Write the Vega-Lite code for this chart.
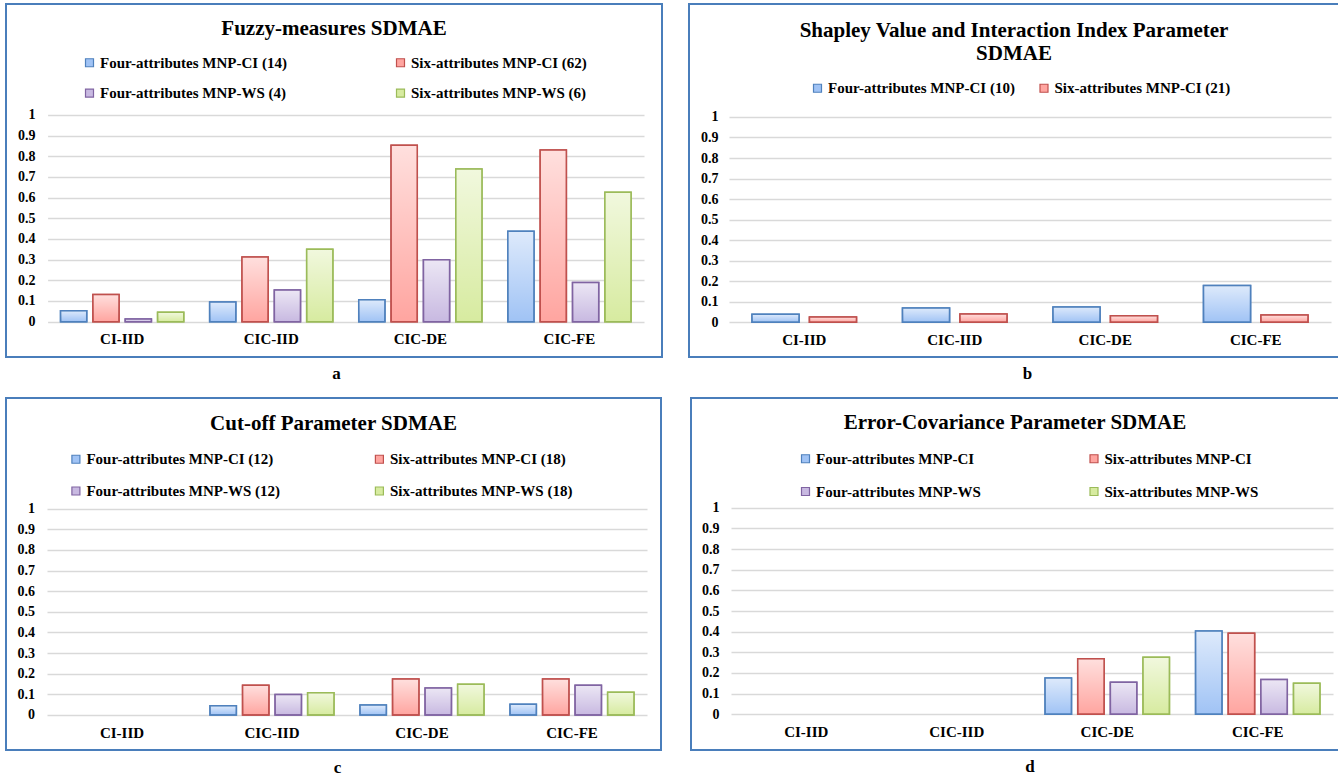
{
  "$schema": "https://vega.github.io/schema/vega-lite/v6.json",
  "background": "white",
  "autosize": {"type": "pad"},
  "padding": {"left": 5, "top": 3, "right": 0, "bottom": 0},
  "config": {
    "view": {"stroke": "#4a7ebb", "strokeWidth": 2},
    "font": "Liberation Serif",
    "title": {"font": "Liberation Serif", "fontSize": 21, "fontWeight": "bold", "color": "#000000", "anchor": "middle", "frame": "group", "baseline": "alphabetic"},
    "axis": {"labelFont": "Liberation Serif", "labelFontWeight": "bold", "labelColor": "#000000", "titleFont": "Liberation Serif", "titleFontWeight": "bold", "titleColor": "#000000", "domain": false, "ticks": false, "tickSize": 0},
    "axisX": {"labelAngle": 0, "labelFontSize": 15, "labelPadding": 10, "grid": false, "titleFontSize": 17, "titleBaseline": "alphabetic", "titleAlign": "center"},
    "axisY": {"labelFontSize": 14, "labelPadding": 3, "grid": true, "gridColor": "#d9d9d9", "gridWidth": 1.5, "labelOverlap": false},
    "legend": {"labelFont": "Liberation Serif", "labelFontSize": 15, "labelFontWeight": "bold", "labelColor": "#000000", "labelLimit": 400, "symbolType": "square", "symbolSize": 64, "symbolStrokeWidth": 1.2, "labelOffset": 3, "padding": 0}
  },
  "datasets": {
    "a": [
      {"cat": "CI-IID", "series": "Four-attributes MNP-CI (14)", "value": 0.053},
      {"cat": "CI-IID", "series": "Six-attributes MNP-CI (62)", "value": 0.132},
      {"cat": "CI-IID", "series": "Four-attributes MNP-WS (4)", "value": 0.013},
      {"cat": "CI-IID", "series": "Six-attributes MNP-WS (6)", "value": 0.045},
      {"cat": "CIC-IID", "series": "Four-attributes MNP-CI (14)", "value": 0.095},
      {"cat": "CIC-IID", "series": "Six-attributes MNP-CI (62)", "value": 0.313},
      {"cat": "CIC-IID", "series": "Four-attributes MNP-WS (4)", "value": 0.153},
      {"cat": "CIC-IID", "series": "Six-attributes MNP-WS (6)", "value": 0.35},
      {"cat": "CIC-DE", "series": "Four-attributes MNP-CI (14)", "value": 0.106},
      {"cat": "CIC-DE", "series": "Six-attributes MNP-CI (62)", "value": 0.853},
      {"cat": "CIC-DE", "series": "Four-attributes MNP-WS (4)", "value": 0.3},
      {"cat": "CIC-DE", "series": "Six-attributes MNP-WS (6)", "value": 0.739},
      {"cat": "CIC-FE", "series": "Four-attributes MNP-CI (14)", "value": 0.437},
      {"cat": "CIC-FE", "series": "Six-attributes MNP-CI (62)", "value": 0.831},
      {"cat": "CIC-FE", "series": "Four-attributes MNP-WS (4)", "value": 0.189},
      {"cat": "CIC-FE", "series": "Six-attributes MNP-WS (6)", "value": 0.626}
    ],
    "b": [
      {"cat": "CI-IID", "series": "Four-attributes MNP-CI (10)", "value": 0.039},
      {"cat": "CI-IID", "series": "Six-attributes MNP-CI (21)", "value": 0.026},
      {"cat": "CIC-IID", "series": "Four-attributes MNP-CI (10)", "value": 0.07},
      {"cat": "CIC-IID", "series": "Six-attributes MNP-CI (21)", "value": 0.041},
      {"cat": "CIC-DE", "series": "Four-attributes MNP-CI (10)", "value": 0.075},
      {"cat": "CIC-DE", "series": "Six-attributes MNP-CI (21)", "value": 0.032},
      {"cat": "CIC-FE", "series": "Four-attributes MNP-CI (10)", "value": 0.179},
      {"cat": "CIC-FE", "series": "Six-attributes MNP-CI (21)", "value": 0.036}
    ],
    "c": [
      {"cat": "CIC-IID", "series": "Four-attributes MNP-CI (12)", "value": 0.045},
      {"cat": "CIC-IID", "series": "Six-attributes MNP-CI (18)", "value": 0.144},
      {"cat": "CIC-IID", "series": "Four-attributes MNP-WS (12)", "value": 0.099},
      {"cat": "CIC-IID", "series": "Six-attributes MNP-WS (18)", "value": 0.108},
      {"cat": "CIC-DE", "series": "Four-attributes MNP-CI (12)", "value": 0.048},
      {"cat": "CIC-DE", "series": "Six-attributes MNP-CI (18)", "value": 0.174},
      {"cat": "CIC-DE", "series": "Four-attributes MNP-WS (12)", "value": 0.131},
      {"cat": "CIC-DE", "series": "Six-attributes MNP-WS (18)", "value": 0.149},
      {"cat": "CIC-FE", "series": "Four-attributes MNP-CI (12)", "value": 0.052},
      {"cat": "CIC-FE", "series": "Six-attributes MNP-CI (18)", "value": 0.174},
      {"cat": "CIC-FE", "series": "Four-attributes MNP-WS (12)", "value": 0.144},
      {"cat": "CIC-FE", "series": "Six-attributes MNP-WS (18)", "value": 0.11}
    ],
    "d": [
      {"cat": "CIC-DE", "series": "Four-attributes MNP-CI", "value": 0.176},
      {"cat": "CIC-DE", "series": "Six-attributes MNP-CI", "value": 0.269},
      {"cat": "CIC-DE", "series": "Four-attributes MNP-WS", "value": 0.155},
      {"cat": "CIC-DE", "series": "Six-attributes MNP-WS", "value": 0.276},
      {"cat": "CIC-FE", "series": "Four-attributes MNP-CI", "value": 0.403},
      {"cat": "CIC-FE", "series": "Six-attributes MNP-CI", "value": 0.392},
      {"cat": "CIC-FE", "series": "Four-attributes MNP-WS", "value": 0.168},
      {"cat": "CIC-FE", "series": "Six-attributes MNP-WS", "value": 0.15}
    ]
  },
  "spacing": 14,
  "resolve": {"scale": {"fill": "independent", "stroke": "independent", "xOffset": "independent", "x": "independent", "y": "independent"}, "legend": {"fill": "independent", "stroke": "independent"}},
  "vconcat": [
    {
      "spacing": 25,
      "resolve": {"scale": {"fill": "independent", "stroke": "independent", "xOffset": "independent", "x": "independent", "y": "independent"}, "legend": {"fill": "independent", "stroke": "independent"}},
      "hconcat": [
        {
          "width": 656, "height": 353,
          "title": {"text": "Fuzzy-measures SDMAE", "offset": -35},
          "encoding": {
            "x": {"field": "cat", "type": "nominal", "scale": {"domain": ["CI-IID", "CIC-IID", "CIC-DE", "CIC-FE"], "range": [41.6, 638], "paddingInner": 0, "paddingOuter": 0}, "axis": {"title": "a", "offset": -35.3, "titleX": 330, "titleY": 57}},
            "y": {"field": "value", "type": "quantitative", "scale": {"domain": [-0.171, 1.537], "nice": false, "zero": false}, "axis": {"title": null, "offset": -32, "values": [0, 0.1, 0.2, 0.3, 0.4, 0.5, 0.6, 0.7, 0.8, 0.9, 1], "format": "~g"}}
          },
          "layer": [
            {
              "data": {"name": "a"},
              "mark": {"type": "bar", "strokeWidth": 1.5},
              "encoding": {
                "xOffset": {"field": "series", "scale": {"domain": ["Four-attributes MNP-CI (14)", "Six-attributes MNP-CI (62)", "Four-attributes MNP-WS (4)", "Six-attributes MNP-WS (6)"], "paddingInner": 0.19, "paddingOuter": 0.4}},
                "fill": {"field": "series", "type": "nominal", "scale": {"domain": ["Four-attributes MNP-CI (14)", "Four-attributes MNP-WS (4)", "Six-attributes MNP-CI (62)", "Six-attributes MNP-WS (6)"], "range": ["#a0c3f5", "#c8b9e1", "#ffa5a0", "#d7eba0"]}, "legend": {"title": null, "orient": "none", "legendX": 76, "legendY": 51, "columns": 2, "columnPadding": 106, "rowPadding": 14.6}},
                "stroke": {"field": "series", "type": "nominal", "scale": {"domain": ["Four-attributes MNP-CI (14)", "Four-attributes MNP-WS (4)", "Six-attributes MNP-CI (62)", "Six-attributes MNP-WS (6)"], "range": ["#4f81bd", "#8064a2", "#c0504d", "#9bbb59"]}, "legend": {"title": null, "orient": "none", "legendX": 76, "legendY": 51, "columns": 2, "columnPadding": 106, "rowPadding": 14.6}}
              }
            },
            {
              "data": {"name": "a"},
              "mark": {"type": "bar", "strokeWidth": 1.5, "fill": {"gradient": "linear", "x1": 0, "y1": 0, "x2": 0, "y2": 1, "stops": [{"offset": 0, "color": "rgba(255,255,255,0.65)"}, {"offset": 1, "color": "rgba(255,255,255,0)"}]}},
              "encoding": {
                "xOffset": {"field": "series", "scale": {"domain": ["Four-attributes MNP-CI (14)", "Six-attributes MNP-CI (62)", "Four-attributes MNP-WS (4)", "Six-attributes MNP-WS (6)"], "paddingInner": 0.19, "paddingOuter": 0.4}},
                "stroke": {"field": "series", "type": "nominal", "legend": null}
              }
            }
          ]
        },
        {
          "width": 650, "height": 353,
          "title": {"text": ["Shapley Value and Interaction Index Parameter", "SDMAE"], "offset": -60.5, "lineHeight": 23.3},
          "encoding": {
            "x": {"field": "cat", "type": "nominal", "scale": {"domain": ["CI-IID", "CIC-IID", "CIC-DE", "CIC-FE"], "range": [40, 642], "paddingInner": 0, "paddingOuter": 0}, "axis": {"title": "b", "offset": -34.7, "titleX": 338, "titleY": 56}},
            "y": {"field": "value", "type": "quantitative", "scale": {"domain": [-0.169, 1.55], "nice": false, "zero": false}, "axis": {"title": null, "offset": -32, "values": [0, 0.1, 0.2, 0.3, 0.4, 0.5, 0.6, 0.7, 0.8, 0.9, 1], "format": "~g"}}
          },
          "layer": [
            {
              "data": {"name": "b"},
              "mark": {"type": "bar", "strokeWidth": 1.5},
              "encoding": {
                "xOffset": {"field": "series", "scale": {"domain": ["Four-attributes MNP-CI (10)", "Six-attributes MNP-CI (21)"], "paddingInner": 0.18, "paddingOuter": 0.4}},
                "fill": {"field": "series", "type": "nominal", "scale": {"domain": ["Four-attributes MNP-CI (10)", "Six-attributes MNP-CI (21)"], "range": ["#a0c3f5", "#ffa5a0"]}, "legend": {"title": null, "orient": "none", "legendX": 121, "legendY": 76.5, "columns": 2, "columnPadding": 21.5}},
                "stroke": {"field": "series", "type": "nominal", "scale": {"domain": ["Four-attributes MNP-CI (10)", "Six-attributes MNP-CI (21)"], "range": ["#4f81bd", "#c0504d"]}, "legend": {"title": null, "orient": "none", "legendX": 121, "legendY": 76.5, "columns": 2, "columnPadding": 21.5}}
              }
            },
            {
              "data": {"name": "b"},
              "mark": {"type": "bar", "strokeWidth": 1.5, "fill": {"gradient": "linear", "x1": 0, "y1": 0, "x2": 0, "y2": 1, "stops": [{"offset": 0, "color": "rgba(255,255,255,0.65)"}, {"offset": 1, "color": "rgba(255,255,255,0)"}]}},
              "encoding": {
                "xOffset": {"field": "series", "scale": {"domain": ["Four-attributes MNP-CI (10)", "Six-attributes MNP-CI (21)"], "paddingInner": 0.18, "paddingOuter": 0.4}},
                "stroke": {"field": "series", "type": "nominal", "legend": null}
              }
            }
          ]
        }
      ]
    },
    {
      "spacing": 28,
      "resolve": {"scale": {"fill": "independent", "stroke": "independent", "xOffset": "independent", "x": "independent", "y": "independent"}, "legend": {"fill": "independent", "stroke": "independent"}},
      "hconcat": [
        {
          "width": 655, "height": 352,
          "title": {"text": "Cut-off Parameter SDMAE", "offset": -35.7},
          "encoding": {
            "x": {"field": "cat", "type": "nominal", "scale": {"domain": ["CI-IID", "CIC-IID", "CIC-DE", "CIC-FE"], "range": [41, 641], "paddingInner": 0, "paddingOuter": 0}, "axis": {"title": "c", "offset": -35, "titleX": 331, "titleY": 57.5}},
            "y": {"field": "value", "type": "quantitative", "scale": {"domain": [-0.1697, 1.5366], "nice": false, "zero": false}, "axis": {"title": null, "offset": -31.5, "values": [0, 0.1, 0.2, 0.3, 0.4, 0.5, 0.6, 0.7, 0.8, 0.9, 1], "format": "~g"}}
          },
          "layer": [
            {
              "data": {"name": "c"},
              "mark": {"type": "bar", "strokeWidth": 1.5},
              "encoding": {
                "xOffset": {"field": "series", "scale": {"domain": ["Four-attributes MNP-CI (12)", "Six-attributes MNP-CI (18)", "Four-attributes MNP-WS (12)", "Six-attributes MNP-WS (18)"], "paddingInner": 0.19, "paddingOuter": 0.4}},
                "fill": {"field": "series", "type": "nominal", "scale": {"domain": ["Four-attributes MNP-CI (12)", "Four-attributes MNP-WS (12)", "Six-attributes MNP-CI (18)", "Six-attributes MNP-WS (18)"], "range": ["#a0c3f5", "#c8b9e1", "#ffa5a0", "#d7eba0"]}, "legend": {"title": null, "orient": "none", "legendX": 62.4, "legendY": 53.5, "columns": 2, "columnPadding": 91.5, "rowPadding": 16}},
                "stroke": {"field": "series", "type": "nominal", "scale": {"domain": ["Four-attributes MNP-CI (12)", "Four-attributes MNP-WS (12)", "Six-attributes MNP-CI (18)", "Six-attributes MNP-WS (18)"], "range": ["#4f81bd", "#8064a2", "#c0504d", "#9bbb59"]}, "legend": {"title": null, "orient": "none", "legendX": 62.4, "legendY": 53.5, "columns": 2, "columnPadding": 91.5, "rowPadding": 16}}
              }
            },
            {
              "data": {"name": "c"},
              "mark": {"type": "bar", "strokeWidth": 1.5, "fill": {"gradient": "linear", "x1": 0, "y1": 0, "x2": 0, "y2": 1, "stops": [{"offset": 0, "color": "rgba(255,255,255,0.65)"}, {"offset": 1, "color": "rgba(255,255,255,0)"}]}},
              "encoding": {
                "xOffset": {"field": "series", "scale": {"domain": ["Four-attributes MNP-CI (12)", "Six-attributes MNP-CI (18)", "Four-attributes MNP-WS (12)", "Six-attributes MNP-WS (18)"], "paddingInner": 0.19, "paddingOuter": 0.4}},
                "stroke": {"field": "series", "type": "nominal", "legend": null}
              }
            }
          ]
        },
        {
          "width": 648, "height": 352,
          "title": {"text": "Error-Covariance Parameter SDMAE", "offset": -34.7},
          "encoding": {
            "x": {"field": "cat", "type": "nominal", "scale": {"domain": ["CI-IID", "CIC-IID", "CIC-DE", "CIC-FE"], "range": [40, 642], "paddingInner": 0, "paddingOuter": 0}, "axis": {"title": "d", "offset": -35.7, "titleX": 338.4, "titleY": 57.5}},
            "y": {"field": "value", "type": "quantitative", "scale": {"domain": [-0.1728, 1.531], "nice": false, "zero": false}, "axis": {"title": null, "offset": -31, "values": [0, 0.1, 0.2, 0.3, 0.4, 0.5, 0.6, 0.7, 0.8, 0.9, 1], "format": "~g"}}
          },
          "layer": [
            {
              "data": {"name": "d"},
              "mark": {"type": "bar", "strokeWidth": 1.5},
              "encoding": {
                "xOffset": {"field": "series", "scale": {"domain": ["Four-attributes MNP-CI", "Six-attributes MNP-CI", "Four-attributes MNP-WS", "Six-attributes MNP-WS"], "paddingInner": 0.19, "paddingOuter": 0.4}},
                "fill": {"field": "series", "type": "nominal", "scale": {"domain": ["Four-attributes MNP-CI", "Four-attributes MNP-WS", "Six-attributes MNP-CI", "Six-attributes MNP-WS"], "range": ["#a0c3f5", "#c8b9e1", "#ffa5a0", "#d7eba0"]}, "legend": {"title": null, "orient": "none", "legendX": 107, "legendY": 53, "columns": 2, "columnPadding": 105.5, "rowPadding": 17}},
                "stroke": {"field": "series", "type": "nominal", "scale": {"domain": ["Four-attributes MNP-CI", "Four-attributes MNP-WS", "Six-attributes MNP-CI", "Six-attributes MNP-WS"], "range": ["#4f81bd", "#8064a2", "#c0504d", "#9bbb59"]}, "legend": {"title": null, "orient": "none", "legendX": 107, "legendY": 53, "columns": 2, "columnPadding": 105.5, "rowPadding": 17}}
              }
            },
            {
              "data": {"name": "d"},
              "mark": {"type": "bar", "strokeWidth": 1.5, "fill": {"gradient": "linear", "x1": 0, "y1": 0, "x2": 0, "y2": 1, "stops": [{"offset": 0, "color": "rgba(255,255,255,0.65)"}, {"offset": 1, "color": "rgba(255,255,255,0)"}]}},
              "encoding": {
                "xOffset": {"field": "series", "scale": {"domain": ["Four-attributes MNP-CI", "Six-attributes MNP-CI", "Four-attributes MNP-WS", "Six-attributes MNP-WS"], "paddingInner": 0.19, "paddingOuter": 0.4}},
                "stroke": {"field": "series", "type": "nominal", "legend": null}
              }
            }
          ]
        }
      ]
    }
  ]
}
